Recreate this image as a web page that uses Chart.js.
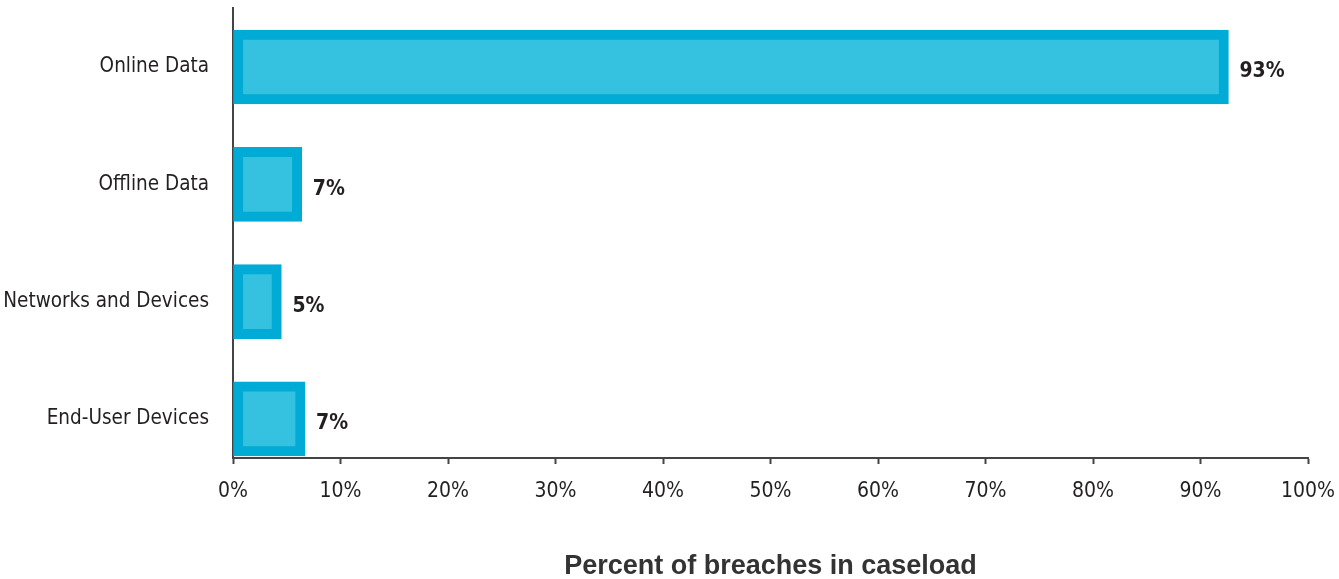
<!DOCTYPE html>
<html>
<head>
<meta charset="utf-8">
<script src="https://cdn.jsdelivr.net/npm/chart.js@4"></script>
<style>
  html, body { margin: 0; padding: 0; background: #fff; }
  #wrap { width: 1339px; height: 579px; }
</style>
</head>
<body>
<div id="wrap"><canvas id="myChart"></canvas></div>
<script>
const categorias = ['Online Data', 'Offline Data', 'Networks and Devices', 'End-User Devices'];
const valores = [92.6, 6.4, 4.5, 6.7];
const etiquetas = ['93%', '7%', '5%', '7%'];
const ticksX = [0, 10, 20, 30, 40, 50, 60, 70, 80, 90, 100];

const fuente = '"DejaVu Sans Condensed", "Liberation Sans", sans-serif';
const texto = '#231f20';

const etiquetasBarras = {
  id: 'etiquetasBarras',
  afterDatasetsDraw(chart) {
    const ctx = chart.ctx;
    const meta = chart.getDatasetMeta(0);
    ctx.save();
    ctx.fillStyle = texto;
    ctx.font = 'bold 21px ' + fuente;
    ctx.textAlign = 'left';
    ctx.textBaseline = 'middle';
    meta.data.forEach((bar, i) => {
      ctx.fillText(etiquetas[i], bar.x + 11, bar.y + 5);
    });
    ctx.restore();
  }
};

const data = {
  datasets: [{
    label: 'Percent of breaches',
    data: valores.map((v, i) => ({ x: v, y: i })),
    backgroundColor: 'rgb(52, 194, 224)',
    borderColor: 'rgb(0, 171, 213)',
    borderWidth: 10,
    borderSkipped: false,
    barThickness: 74
  }]
};

const config = {
  type: 'bar',
  data: data,
  options: {
    indexAxis: 'y',
    responsive: true,
    maintainAspectRatio: false,
    animation: false,
    layout: { padding: { top: 8, right: 31, left: 0, bottom: 0 } },
    plugins: {
      legend: { display: false },
      tooltip: { enabled: false }
    },
    scales: {
      x: {
        type: 'linear',
        min: 0,
        max: 100,
        afterBuildTicks: (scale) => { scale.ticks = ticksX.map(v => ({ value: v })); },
        afterFit: (scale) => {
          scale.height = 121;
          scale.paddingLeft = 0;
          scale.paddingRight = 0;
        },
        ticks: {
          callback: (v) => v + '%',
          color: texto,
          font: { family: fuente, size: 21 },
          padding: 15,
          maxRotation: 0
        },
        grid: {
          display: true,
          drawOnChartArea: false,
          drawTicks: true,
          tickLength: 6,
          tickWidth: 2,
          tickColor: '#444'
        },
        border: { display: true, color: '#444', width: 2 },
        title: {
          display: true,
          text: 'Percent of breaches in caseload',
          color: '#333',
          font: { family: '"Liberation Sans", sans-serif', size: 27, weight: 'bold', lineHeight: 0.9 },
          padding: { top: 20, bottom: 0 }
        }
      },
      y: {
        type: 'linear',
        reverse: true,
        offset: false,
        min: -0.503,
        max: 3.333,
        afterBuildTicks: (scale) => { scale.ticks = categorias.map((c, i) => ({ value: i })); },
        afterFit: (scale) => {
          scale.width = 233;
          scale.paddingTop = 0;
          scale.paddingBottom = 0;
        },
        ticks: {
          callback: (v) => categorias[v],
          color: texto,
          font: { family: fuente, size: 20.5 },
          padding: 16
        },
        grid: { display: false, offset: false },
        border: { display: true, color: '#444', width: 2 }
      }
    }
  },
  plugins: [etiquetasBarras]
};

const myChart = new Chart(document.getElementById('myChart'), config);
</script>
</body>
</html>
